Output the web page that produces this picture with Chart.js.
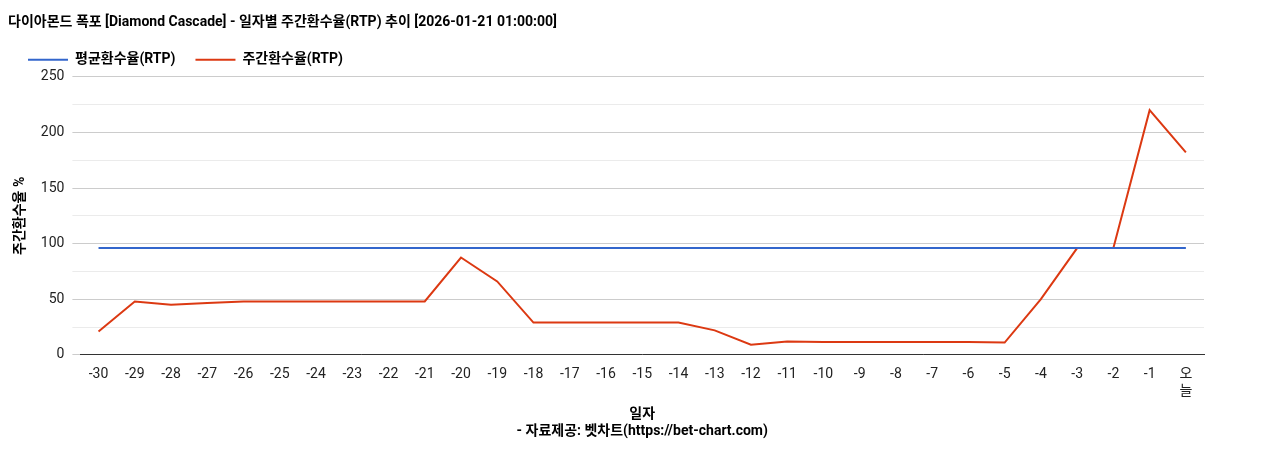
<!DOCTYPE html>
<html>
<head>
<meta charset="utf-8">
<script src="https://cdn.jsdelivr.net/npm/chart.js@4"></script>
<style>
  body { margin: 0; background: #fff; }
  #wrap { width: 1268px; height: 450px; }
</style>
</head>
<body>
<div id="wrap"><canvas id="rtpChart"></canvas></div>
<script>
const days = ['-30','-29','-28','-27','-26','-25','-24','-23','-22','-21','-20','-19','-18','-17','-16','-15','-14','-13','-12','-11','-10','-9','-8','-7','-6','-5','-4','-3','-2','-1',['오','늘']];
const weeklyRtp = [21,48,45,46.5,48,48,48,48,48,48,87.5,66,29,29,29,29,29,22,9,12,11.5,11.5,11.5,11.5,11.5,11,50,96,96,220,182];
const avgRtp = days.map(() => 96);

Chart.defaults.font.family = "Roboto, 'Noto Sans CJK KR', sans-serif";
Chart.defaults.color = '#222';

new Chart(document.getElementById('rtpChart'), {
    type: 'line',
    data: {
        labels: days,
        datasets: [{
            label: '평균환수율(RTP)',
            data: avgRtp,
            borderColor: '#3366cc',
            backgroundColor: '#3366cc',
            borderWidth: 2,
            pointRadius: 0,
            tension: 0
        }, {
            label: '주간환수율(RTP)',
            data: weeklyRtp,
            borderColor: '#dc3912',
            backgroundColor: '#dc3912',
            borderWidth: 2,
            pointRadius: 0,
            tension: 0
        }]
    },
    options: {
        responsive: true,
        maintainAspectRatio: false,
        animation: false,
        layout: { padding: { left: 8, right: 64, top: 14, bottom: 6 } },
        plugins: {
            title: {
                display: true,
                text: '다이아몬드 폭포 [Diamond Cascade] - 일자별 주간환수율(RTP) 추이 [2026-01-21 01:00:00]',
                align: 'start',
                font: { size: 14, weight: 'bold' },
                color: '#000',
                padding: { top: 0, bottom: 2 }
            },
            legend: {
                align: 'start',
                labels: {
                    usePointStyle: true,
                    pointStyle: 'line',
                    pointStyleWidth: 40,
                    font: { size: 14, weight: 'bold' },
                    color: '#000',
                    padding: 20
                }
            },
            tooltip: { enabled: false }
        },
        scales: {
            x: {
                offset: true,
                grid: { display: false },
                border: { color: '#333' },
                ticks: { font: { size: 14 }, color: '#222', maxRotation: 0, autoSkip: false },
                title: {
                    display: true,
                    text: ['일자', '- 자료제공: 벳차트(https://bet-chart.com)'],
                    font: { size: 14, weight: 'bold' },
                    color: '#000'
                }
            },
            y: {
                min: 0,
                max: 250,
                ticks: {
                    stepSize: 25,
                    font: { size: 14 },
                    color: '#222',
                    padding: 8,
                    callback: v => (v % 50 === 0 ? v : '')
                },
                grid: {
                    color: ctx => (ctx.tick && ctx.tick.value % 50 === 0 ? '#cccccc' : '#ebebeb')
                },
                border: { display: false },
                title: {
                    display: true,
                    text: '주간환수율 %',
                    font: { size: 14, weight: 'bold' },
                    color: '#000'
                }
            }
        }
    }
});
</script>
</body>
</html>
